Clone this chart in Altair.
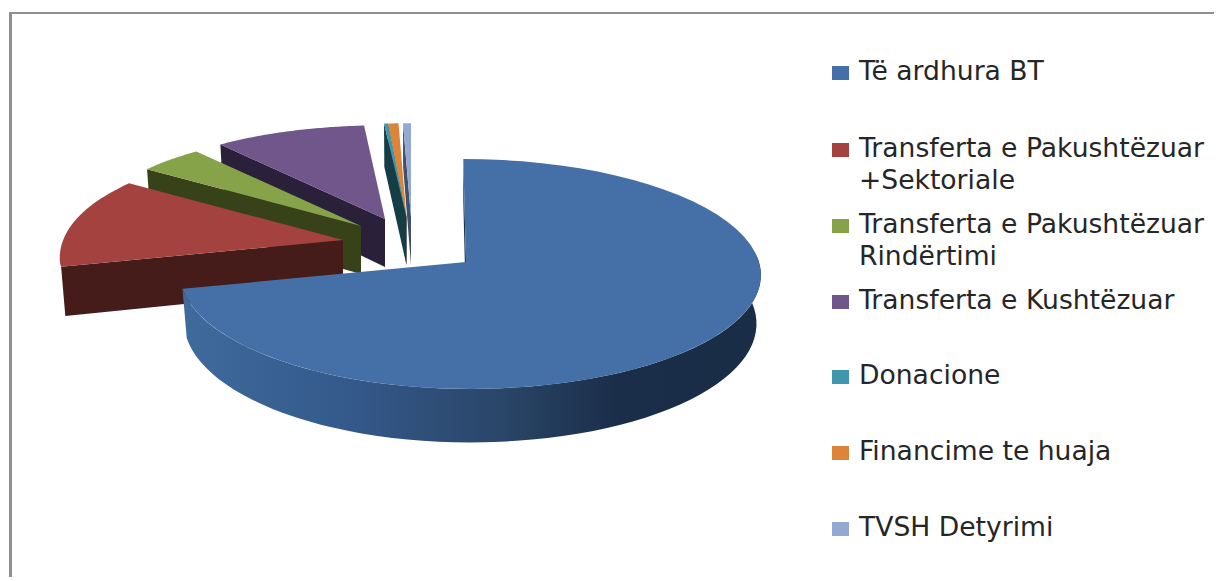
import math
import altair as alt
import pandas as pd

# ---- values ----
categories = ["Të ardhura BT", "Transferta e Pakushtëzuar +Sektoriale",
              "Transferta e Pakushtëzuar Rindërtimi", "Transferta e Kushtëzuar",
              "Donacione", "Financime te huaja", "TVSH Detyrimi"]
shares = [71.3, 13.1, 4.3, 9.95, 0.24, 0.63, 0.48]
top_colors = ["#4470a7", "#a3423f", "#87a34a", "#71568c", "#3f97ae", "#dc843a", "#93a9d1"]
side_colors = ["#1d3350", "#451c1a", "#384218", "#2b203a", "#163d45", "#6b4020", "#40506c"]
legend_lines = [["Të ardhura BT"], ["Transferta e Pakushtëzuar", "+Sektoriale"],
                ["Transferta e Pakushtëzuar", "Rindërtimi"], ["Transferta e Kushtëzuar"],
                ["Donacione"], ["Financime te huaja"], ["TVSH Detyrimi"]]

# ---- layout ----
W, H = 1206, 569
apexes = [(466, 262), (343, 240), (361, 226), (385, 219), (406.5, 217), (406.5, 217), (411, 217)]
legend_y = [72, 149, 225, 301, 376, 452, 528]
R, B, K, D = 293.0, 113.7, 0.104, 48.0
xs = alt.Scale(domain=[8, 8 + W], range=[0, W], nice=False, zero=False)
ys = alt.Scale(domain=[8, 8 + H], range=[0, H], nice=False, zero=False)


def pt(idx, frac, lower=False):
    ax, ay = apexes[idx]
    t = 2 * math.pi * frac
    v = math.cos(t)
    s = 1 / (1 + K * v)
    if idx == 0:
        sx = 0.973 if math.sin(t) < 0 else 1.0
        sy = 1.0
        shear = -3.0
    elif idx >= 4:
        sx, sy, shear = 1.0, 0.91, 0.0
    else:
        sx = 0.965 - 0.035 * min(max((v + 0.2) / 0.7, 0), 1)
        sy = 1 - 0.09 * max(v, 0)
        shear = 0.0
    x = R * math.sin(t) * s * sx + shear * v * s
    y = -B * v * s * sy
    if lower:
        return ax + x * 0.985, ay + y + D * s
    return ax + x, ay + y


def arc(idx, f0, f1, lower=False, n=60):
    return [pt(idx, f0 + (f1 - f0) * i / n, lower) for i in range(n + 1)]


def poly(points, fill):
    df = pd.DataFrame([{"x": p[0], "y": p[1], "i": i} for i, p in enumerate(points)])
    return alt.Chart(df).mark_line(fill=fill, strokeWidth=0, interpolate="linear-closed").encode(
        x=alt.X("x:Q", scale=xs, axis=None),
        y=alt.Y("y:Q", scale=ys, axis=None),
        order=alt.Order("i:Q"),
    )


bounds = []
c = 0.0
total = sum(shares)
for s in shares:
    bounds.append((c / total, (c + s) / total))
    c += s

rim_gradient = alt.Gradient(
    gradient="linear", x1=0, x2=1, y1=0, y2=0,
    stops=[alt.GradientStop(offset=0, color="#3f6b9c"),
           alt.GradientStop(offset=0.3, color="#34588a"),
           alt.GradientStop(offset=0.55, color="#2a4668"),
           alt.GradientStop(offset=0.75, color="#1b2e49"),
           alt.GradientStop(offset=1, color="#1a2d47")])

layers = []
# frame
frame = pd.DataFrame({"x": [9, 9], "x2": [12, 1222], "y": [12, 12], "y2": [581, 14]})
layers.append(alt.Chart(frame).mark_rect(color="#8f8f8f").encode(
    x=alt.X("x:Q", scale=xs, axis=None), x2="x2:Q",
    y=alt.Y("y:Q", scale=ys, axis=None), y2="y2:Q"))

# slices, back to front
for idx in [6, 5, 4, 3, 2, 1, 0]:
    ax, ay = apexes[idx]
    f0, f1 = bounds[idx]
    layers.append(poly([pt(idx, f0), (ax, ay), (ax, ay + D), pt(idx, f0, True)], side_colors[idx]))
    if idx == 0:
        top = arc(idx, 0.24, f1)
        bot = arc(idx, 0.24, f1, True)
        layers.append(poly(top + bot[::-1], rim_gradient))
    layers.append(poly([(ax, ay)] + arc(idx, f0, f1), top_colors[idx]))

# legend
sw_rows = []
txt_rows = []
for cat, col, lines, y in zip(categories, top_colors, legend_lines, legend_y):
    sw_rows.append({"x": 832, "x2": 849, "y": y - 6, "y2": y + 8, "c": col})
    for j, line in enumerate(lines):
        txt_rows.append({"x": 859, "y": y + j * 32, "t": line})
layers.append(alt.Chart(pd.DataFrame(sw_rows)).mark_rect().encode(
    x=alt.X("x:Q", scale=xs, axis=None), x2="x2:Q",
    y=alt.Y("y:Q", scale=ys, axis=None), y2="y2:Q",
    color=alt.Color("c:N", scale=None)))
layers.append(alt.Chart(pd.DataFrame(txt_rows)).mark_text(
    align="left", baseline="middle", font="DejaVu Sans", fontSize=26.6, color="#262626").encode(
    x=alt.X("x:Q", scale=xs, axis=None),
    y=alt.Y("y:Q", scale=ys, axis=None),
    text="t:N"))

chart = alt.layer(*layers).properties(
    width=W, height=H, padding=0, autosize=alt.AutoSizeParams(type="none")
).configure_view(stroke=None)
chart.save("out.html", embed_options={"renderer": "svg", "actions": False})
